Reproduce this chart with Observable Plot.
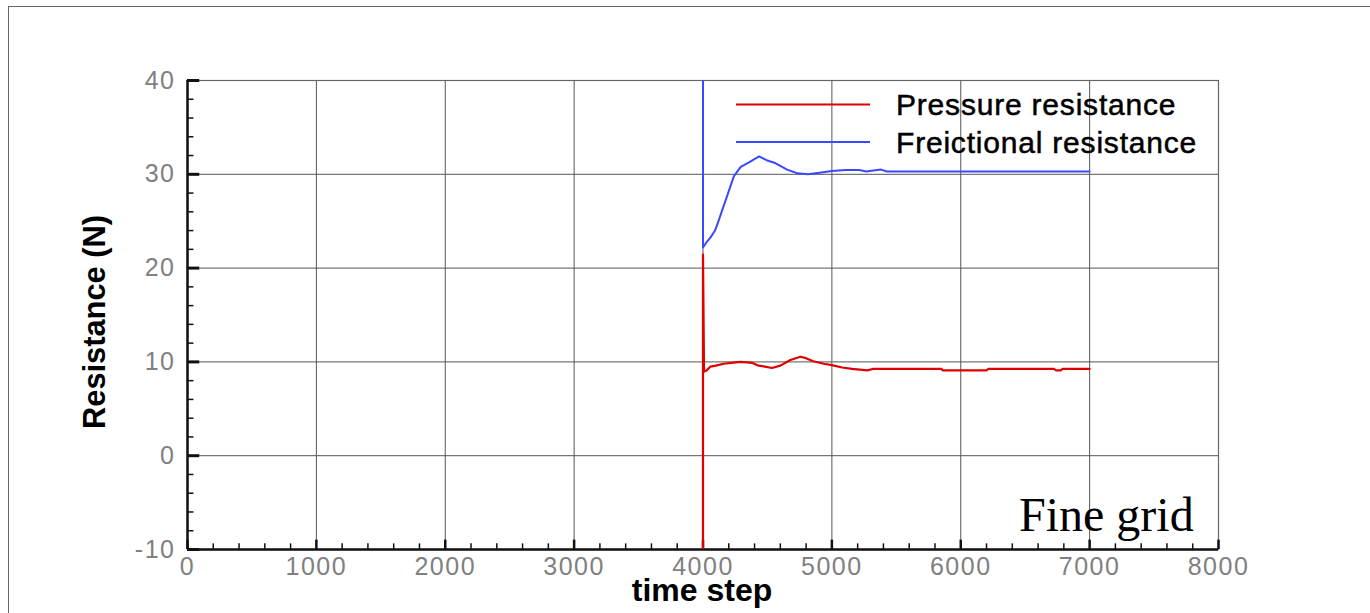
<!DOCTYPE html>
<html>
<head>
<meta charset="utf-8">
<script src="https://cdn.jsdelivr.net/npm/d3@7"></script>
<script src="https://cdn.jsdelivr.net/npm/@observablehq/plot@0.6"></script>
<style>
  html, body { margin: 0; padding: 0; background: #fff; }
  #wrap { position: relative; width: 1370px; height: 613px; overflow: hidden; }
  #border { position: absolute; left: 8px; top: 6px; width: 1400px; height: 700px;
            border-top: 1.5px solid #666; border-left: 1.5px solid #666; box-sizing: border-box; }
  #chart { position: absolute; left: 0; top: 0; }
</style>
</head>
<body>
<div id="wrap">
  <div id="border"></div>
  <div id="chart"></div>
</div>
<script>
// ---- data ----
const xTicks = [0, 1000, 2000, 3000, 4000, 5000, 6000, 7000, 8000];
const yTicks = [-10, 0, 10, 20, 30, 40];
const xMinor = d3.range(0, 8001, 200).filter(d => d % 1000 !== 0);
const yMinor = d3.range(-10, 40.01, 2).filter(d => d % 10 !== 0);

const seriesNames = ["Pressure resistance", "Freictional resistance"];
const seriesColors = ["#e00000", "#3a48ff"];

const pressureT = [4000, 4000, 4008, 4030, 4058, 4100, 4161, 4220, 4290, 4340, 4380, 4431, 4480, 4535, 4600, 4678, 4756, 4800, 4850, 4937, 5000, 5080, 5157, 5277, 5316, 5500, 5700, 5851, 5860, 6200, 6215, 6500, 6723, 6740, 6776, 6790, 7000];
const pressureV = [-10, 21.45, 8.95, 9.1, 9.5, 9.6, 9.8, 9.9, 10.0, 9.95, 9.9, 9.6, 9.5, 9.35, 9.6, 10.2, 10.55, 10.4, 10.1, 9.8, 9.65, 9.4, 9.25, 9.1, 9.25, 9.25, 9.25, 9.25, 9.1, 9.1, 9.25, 9.25, 9.25, 9.1, 9.1, 9.25, 9.25];

const frictionT = [4000, 4000, 4027, 4060, 4093, 4120, 4147, 4175, 4200, 4240, 4293, 4360, 4435, 4493, 4560, 4653, 4733, 4813, 4920, 5000, 5107, 5213, 5267, 5381, 5427, 6000, 7000];
const frictionV = [40, 22.2, 22.75, 23.3, 24.0, 25.0, 26.1, 27.2, 28.2, 29.8, 30.8, 31.3, 31.9, 31.5, 31.2, 30.5, 30.1, 30.0, 30.2, 30.35, 30.45, 30.45, 30.3, 30.5, 30.3, 30.3, 30.3];

const pressure = pressureT.map((t, i) => ({t, v: pressureV[i]}));
const friction = frictionT.map((t, i) => ({t, v: frictionV[i]}));

const W = 1370, H = 613;
const font = "'Liberation Sans', Arial, sans-serif";

const chart = Plot.plot({
  width: W, height: H,
  marginLeft: 187, marginRight: 152, marginTop: 80, marginBottom: 64,
  style: {fontFamily: font, background: "transparent", overflow: "visible"},
  x: {domain: [0, 8000]},
  y: {domain: [-10, 40]},
  marks: [
    Plot.ruleX(xTicks.slice(1, -1), {stroke: "#555", strokeWidth: 1}),
    Plot.ruleY(yTicks.slice(1, -1), {stroke: "#555", strokeWidth: 1}),
    Plot.frame({stroke: "#666", strokeWidth: 1.2}),
    // minor / major ticks (inward)
    Plot.ruleY(yMinor, {x1: 0, x2: 50, stroke: "#111", strokeWidth: 1.5}),
    Plot.ruleY(yTicks, {x1: 0, x2: 95, stroke: "#111", strokeWidth: 3}),
    Plot.ruleX(xMinor, {y1: -10, y2: -9.4, stroke: "#111", strokeWidth: 1.5}),
    Plot.ruleX(xTicks, {y1: -10, y2: -9.0, stroke: "#111", strokeWidth: 2.5}),
    // axis lines
    Plot.ruleX([0], {stroke: "#111", strokeWidth: 2.5}),
    Plot.ruleY([-10], {stroke: "#111", strokeWidth: 2.5}),
    // data
    Plot.line(pressure, {x: "t", y: "v", stroke: seriesColors[0], strokeWidth: 2.2, clip: true}),
    Plot.line(friction, {x: "t", y: "v", stroke: seriesColors[1], strokeWidth: 2, clip: true}),
    // tick labels
    Plot.axisX({ticks: xTicks, tickSize: 0, tickPadding: 8, fontSize: 25, fill: "#808080",
                label: null, tickFormat: d => String(d)}),
    Plot.axisY({ticks: yTicks, tickSize: 0, tickPadding: 12, fontSize: 25, fill: "#808080",
                label: null, tickFormat: d => String(d)})
  ]
});

document.getElementById("chart").appendChild(chart);
const svg = d3.select(chart);
svg.selectAll('g[aria-label="x-axis tick label"] text, g[aria-label="y-axis tick label"] text')
   .style("letter-spacing", "1.5px");

// axis titles
svg.append("text")
  .attr("transform", "translate(105,322) rotate(-90)")
  .attr("text-anchor", "middle")
  .attr("font-family", font).attr("font-weight", "bold").attr("font-size", 32)
  .attr("textLength", 214).attr("lengthAdjust", "spacingAndGlyphs")
  .attr("fill", "#000")
  .text("Resistance (N)");
svg.append("text")
  .attr("x", 702).attr("y", 601)
  .attr("text-anchor", "middle")
  .attr("font-family", font).attr("font-weight", "bold").attr("font-size", 32)
  .attr("fill", "#000")
  .text("time step");

// legend
const legY = [104.5, 142];
const legBase = [114.8, 153];
seriesNames.forEach((name, i) => {
  svg.append("line")
    .attr("x1", 736).attr("x2", 870).attr("y1", legY[i]).attr("y2", legY[i])
    .attr("stroke", seriesColors[i]).attr("stroke-width", 2);
  svg.append("text")
    .attr("x", 896).attr("y", legBase[i])
    .attr("text-anchor", "start")
    .attr("font-family", font).attr("font-size", 30)
    .attr("stroke", "#000").attr("stroke-width", 0.5)
    .style("letter-spacing", "0.8px")
    .attr("fill", "#000")
    .text(name);
});

// annotation
svg.append("text")
  .attr("x", 1019).attr("y", 531)
  .attr("text-anchor", "start")
  .attr("font-family", "'Liberation Serif', 'Times New Roman', serif").attr("font-size", 48)
  .attr("fill", "#000")
  .text("Fine grid");
</script>
</body>
</html>
